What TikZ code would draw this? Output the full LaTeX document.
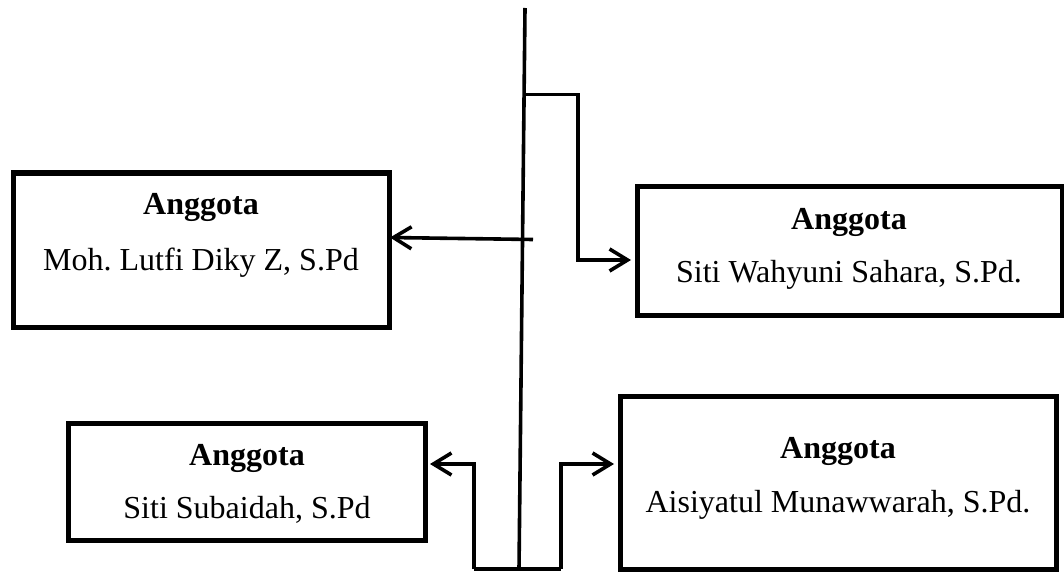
\documentclass[tikz,border=0pt]{standalone}
\usepackage{fontspec}
\setmainfont{Liberation Serif}
\usetikzlibrary{arrows.meta}
\frenchspacing
\begin{document}
\begin{tikzpicture}[x=1pt,y=-1pt,
  box/.style={draw,line width=5pt,rectangle,inner sep=0pt,outer sep=0pt},
  title/.style={anchor=base,inner sep=0pt,font=\fontsize{32}{36}\selectfont\bfseries},
  person/.style={anchor=base,inner sep=0pt,font=\fontsize{32}{36}\selectfont},
  conn/.style={line width=3.6pt,line join=miter},
  tip/.style={-{Straight Barb[length=18pt,width=22pt,line width=3.6pt]}}]
\useasboundingbox (0,0) rectangle (1064,572);
% boxes
\node[box,minimum width=376pt,minimum height=154pt] (b1) at (201,250) {};
\node[box,minimum width=425pt,minimum height=129pt] (b2) at (849.5,250.5) {};
\node[box,minimum width=357.5pt,minimum height=117pt] (b3) at (246.75,481.5) {};
\node[box,minimum width=436pt,minimum height=173pt] (b4) at (838,482.5) {};
% texts
\node[title] (b1t) at (201,214) {Anggota};
\node[person] (b1n) at (201,270) {Moh. Lutfi Diky Z, S.Pd};
\node[title] (b2t) at (849,229) {Anggota};
\node[person] (b2n) at (849,282) {Siti Wahyuni Sahara, S.Pd.};
\node[title] (b3t) at (247,465) {Anggota};
\node[person] (b3n) at (247,518) {Siti Subaidah, S.Pd};
\node[title] (b4t) at (838,458) {Anggota};
\node[person] (b4n) at (838,512) {Aisiyatul Munawwarah, S.Pd.};
% trunk
\coordinate (top) at (525,8);
\coordinate (bot) at (519,569);
\draw[conn] (top) -- (bot);
% top right branch
\coordinate (j1) at (524,94.5);
\coordinate (k1) at (578,94.5);
\coordinate (k2) at (578,260);
\coordinate (a2) at (631,260);
\draw[conn,tip] (j1) -- (k1) -- (k2) -- (a2);
% left upper arrow
\coordinate (j2) at (533,239.5);
\coordinate (a1) at (390,237.5);
\draw[conn,tip] (j2) -- (a1);
% bottom branches
\coordinate (m1) at (474,569);
\coordinate (m2) at (561,569);
\coordinate (m3) at (474,464);
\coordinate (m4) at (561,464);
\coordinate (a3) at (430,464);
\coordinate (a4) at (614,464);
\draw[conn] (m1) -- (m2);
\draw[conn,tip] (m1) -- (m3) -- (a3);
\draw[conn,tip] (m2) -- (m4) -- (a4);
\end{tikzpicture}
\end{document}
